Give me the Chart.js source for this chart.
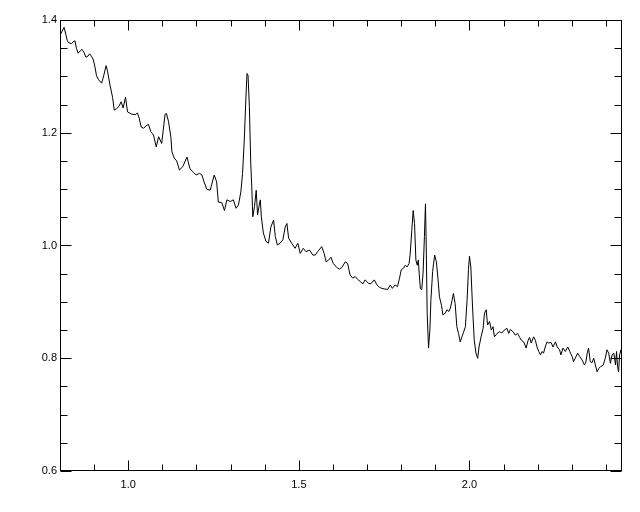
<!DOCTYPE html>
<html>
<head>
<meta charset="utf-8">
<title>Spectrum</title>
<script src="https://cdn.jsdelivr.net/npm/chart.js@4.4.1/dist/chart.umd.min.js"></script>
<style>
  html, body { margin: 0; padding: 0; background: #fff; }
  #wrap { width: 640px; height: 512px; }
</style>
</head>
<body>
<div id="wrap"><canvas id="specChart" width="640" height="512"></canvas></div>
<script>
// wavelength (x) and flux (y)
const wavelength = [
  0.800, 0.806, 0.812, 0.818, 0.821, 0.825, 0.834, 0.838, 0.844, 0.848,
  0.853, 0.859, 0.864, 0.870, 0.876, 0.882, 0.887, 0.892, 0.898, 0.903,
  0.907, 0.913, 0.919, 0.922, 0.928, 0.935, 0.939, 0.947, 0.954, 0.959,
  0.966, 0.973, 0.979, 0.985, 0.992, 0.998, 1.010, 1.020, 1.027, 1.032,
  1.038, 1.045, 1.052, 1.059, 1.066, 1.074, 1.082, 1.089, 1.098, 1.108,
  1.112, 1.118, 1.125, 1.128, 1.135, 1.142, 1.150, 1.160, 1.172, 1.181,
  1.191, 1.199, 1.209, 1.216, 1.222, 1.230, 1.240, 1.252, 1.259, 1.264,
  1.274, 1.282, 1.289, 1.299, 1.308, 1.316, 1.323, 1.330, 1.335, 1.340,
  1.345, 1.348, 1.351, 1.355, 1.359, 1.362, 1.365, 1.370, 1.375, 1.379,
  1.383, 1.387, 1.390, 1.396, 1.404, 1.411, 1.418, 1.426, 1.431, 1.437,
  1.445, 1.453, 1.460, 1.465, 1.470, 1.479, 1.489, 1.497, 1.504, 1.513,
  1.521, 1.531, 1.541, 1.548, 1.555, 1.567, 1.574, 1.580, 1.587, 1.594,
  1.601, 1.611, 1.619, 1.626, 1.636, 1.643, 1.650, 1.658, 1.665, 1.672,
  1.680, 1.688, 1.694, 1.704, 1.711, 1.721, 1.729, 1.736, 1.743, 1.750,
  1.760, 1.768, 1.774, 1.782, 1.789, 1.795, 1.800, 1.807, 1.812, 1.817,
  1.823, 1.826, 1.831, 1.835, 1.839, 1.843, 1.847, 1.850, 1.853, 1.856,
  1.860, 1.864, 1.868, 1.871, 1.873, 1.876, 1.880, 1.884, 1.887, 1.892,
  1.898, 1.903, 1.908, 1.912, 1.918, 1.922, 1.929, 1.934, 1.940, 1.944,
  1.949, 1.953, 1.958, 1.963, 1.968, 1.973, 1.978, 1.982, 1.988, 1.993,
  1.997, 2.000, 2.004, 2.009, 2.014, 2.019, 2.024, 2.028, 2.034, 2.040,
  2.044, 2.049, 2.053, 2.059, 2.064, 2.069, 2.073, 2.081, 2.088, 2.095,
  2.102, 2.110, 2.115, 2.120, 2.128, 2.134, 2.141, 2.147, 2.152, 2.159,
  2.166, 2.172, 2.176, 2.181, 2.188, 2.193, 2.198, 2.203, 2.208, 2.213,
  2.217, 2.222, 2.227, 2.232, 2.239, 2.245, 2.252, 2.257, 2.264, 2.268,
  2.274, 2.281, 2.288, 2.294, 2.301, 2.305, 2.310, 2.317, 2.323, 2.330,
  2.337, 2.341, 2.345, 2.349, 2.354, 2.359, 2.364, 2.369, 2.374, 2.379,
  2.384, 2.392, 2.398, 2.403, 2.408, 2.413, 2.418, 2.423, 2.428, 2.431,
  2.434, 2.437, 2.440, 2.444, 2.447
];

const flux = [
  1.373, 1.380, 1.387, 1.372, 1.364, 1.360, 1.358, 1.361, 1.363, 1.350,
  1.341, 1.345, 1.348, 1.343, 1.334, 1.336, 1.340, 1.336, 1.329, 1.315,
  1.301, 1.294, 1.290, 1.288, 1.301, 1.319, 1.310, 1.283, 1.263, 1.240,
  1.243, 1.247, 1.255, 1.244, 1.263, 1.237, 1.233, 1.232, 1.235, 1.226,
  1.210, 1.208, 1.212, 1.215, 1.202, 1.196, 1.175, 1.193, 1.181, 1.233,
  1.234, 1.220, 1.192, 1.166, 1.155, 1.150, 1.134, 1.140, 1.157, 1.136,
  1.130, 1.125, 1.128, 1.125, 1.113, 1.100, 1.098, 1.125, 1.113, 1.077,
  1.076, 1.062, 1.081, 1.078, 1.081, 1.066, 1.072, 1.095, 1.128, 1.187,
  1.264, 1.305, 1.302, 1.246, 1.146, 1.104, 1.051, 1.069, 1.098, 1.054,
  1.069, 1.081, 1.051, 1.022, 1.007, 1.004, 1.033, 1.045, 1.016, 1.001,
  1.004, 1.010, 1.033, 1.039, 1.013, 1.004, 0.995, 1.004, 0.986, 0.995,
  0.989, 0.992, 0.983, 0.983, 0.989, 0.998, 0.986, 0.971, 0.974, 0.979,
  0.968, 0.961, 0.958, 0.961, 0.971, 0.968, 0.948, 0.942, 0.945, 0.940,
  0.936, 0.932, 0.939, 0.933, 0.932, 0.939, 0.930, 0.926, 0.924, 0.923,
  0.922, 0.930, 0.924, 0.930, 0.927, 0.942, 0.957, 0.960, 0.965, 0.962,
  0.968, 0.983, 1.027, 1.062, 1.039, 0.974, 0.965, 0.974, 0.948, 0.924,
  0.921, 0.951, 1.016, 1.074, 1.010, 0.880, 0.818, 0.850, 0.903, 0.954,
  0.983, 0.971, 0.939, 0.909, 0.894, 0.877, 0.880, 0.886, 0.883, 0.889,
  0.903, 0.915, 0.897, 0.856, 0.844, 0.829, 0.838, 0.845, 0.856, 0.903,
  0.957, 0.981, 0.962, 0.891, 0.832, 0.809, 0.800, 0.820, 0.838, 0.853,
  0.880, 0.886, 0.859, 0.865, 0.850, 0.856, 0.838, 0.844, 0.847, 0.845,
  0.850, 0.853, 0.844, 0.851, 0.847, 0.841, 0.844, 0.837, 0.832, 0.829,
  0.818, 0.832, 0.837, 0.827, 0.838, 0.832, 0.820, 0.812, 0.806, 0.812,
  0.809, 0.820, 0.829, 0.827, 0.828, 0.820, 0.829, 0.820, 0.815, 0.806,
  0.818, 0.812, 0.820, 0.812, 0.803, 0.794, 0.800, 0.809, 0.803, 0.797,
  0.788, 0.793, 0.809, 0.818, 0.794, 0.792, 0.800, 0.788, 0.776, 0.782,
  0.785, 0.788, 0.800, 0.815, 0.809, 0.791, 0.806, 0.809, 0.788, 0.812,
  0.785, 0.776, 0.806, 0.815, 0.803
];

// axis ranges and ticks
const xMin = 0.8, xMax = 2.447;
const yMin = 0.6, yMax = 1.4;
const xMajor = [1.0, 1.5, 2.0];
const xMinor = [0.9, 1.1, 1.2, 1.3, 1.4, 1.6, 1.7, 1.8, 1.9, 2.1, 2.2, 2.3, 2.4];
const yMajor = [0.6, 0.8, 1.0, 1.2, 1.4];
const yMinor = [0.65, 0.7, 0.75, 0.85, 0.9, 0.95, 1.05, 1.1, 1.15, 1.25, 1.3, 1.35];

const FONT = { family: "'Liberation Sans', Helvetica, Arial, sans-serif", size: 11 };

// box around the plot with the ticks pointing inward, IDL style
const framePlugin = {
  id: 'frame',
  afterDraw(chart) {
    const { ctx, chartArea: a, scales } = chart;
    const l = Math.round(a.left) + 0.5, r = Math.round(a.right) - 0.5;
    const t = Math.round(a.top) + 0.5, b = Math.round(a.bottom) - 0.5;
    ctx.save();
    ctx.strokeStyle = '#000';
    ctx.lineWidth = 1;
    ctx.strokeRect(l, t, r - l, b - t);
    ctx.beginPath();
    const xTick = (v, len) => {
      const px = Math.round(scales.x.getPixelForValue(v)) + 0.5;
      ctx.moveTo(px, b); ctx.lineTo(px, b - len);
      ctx.moveTo(px, t); ctx.lineTo(px, t + len);
    };
    const yTick = (v, len) => {
      const py = Math.round(scales.y.getPixelForValue(v)) + 0.5;
      ctx.moveTo(l, py); ctx.lineTo(l + len, py);
      ctx.moveTo(r, py); ctx.lineTo(r - len, py);
    };
    xMajor.forEach(v => xTick(v, 10));
    xMinor.forEach(v => xTick(v, 6));
    yMajor.forEach(v => yTick(v, 11));
    yMinor.forEach(v => yTick(v, 7));
    ctx.stroke();
    ctx.restore();
  }
};

new Chart(document.getElementById('specChart'), {
  type: 'line',
  data: {
    datasets: [{
      data: wavelength.map((x, i) => ({ x: x, y: flux[i] })),
      borderColor: '#000',
      borderWidth: 1,
      pointRadius: 0,
      tension: 0,
      fill: false
    }]
  },
  options: {
    responsive: false,
    animation: false,
    devicePixelRatio: 1,
    layout: { padding: { top: 20, right: 18, left: 0, bottom: 0 } },
    plugins: { legend: { display: false }, tooltip: { enabled: false } },
    scales: {
      x: {
        type: 'linear',
        min: xMin,
        max: xMax,
        afterBuildTicks: s => { s.ticks = xMajor.map(v => ({ value: v })); },
        afterFit: s => { s.height = 41; },
        grid: { display: false, drawTicks: false },
        border: { display: false },
        ticks: {
          font: FONT,
          color: '#000',
          padding: 7,
          maxRotation: 0,
          autoSkip: false,
          callback: v => v.toFixed(1)
        }
      },
      y: {
        min: yMin,
        max: yMax,
        afterBuildTicks: s => { s.ticks = yMajor.map(v => ({ value: v })); },
        afterFit: s => { s.width = 60; },
        grid: { display: false, drawTicks: false },
        border: { display: false },
        ticks: {
          font: FONT,
          color: '#000',
          padding: 3,
          autoSkip: false,
          callback: v => v.toFixed(1)
        }
      }
    }
  },
  plugins: [framePlugin]
});
</script>
</body>
</html>
